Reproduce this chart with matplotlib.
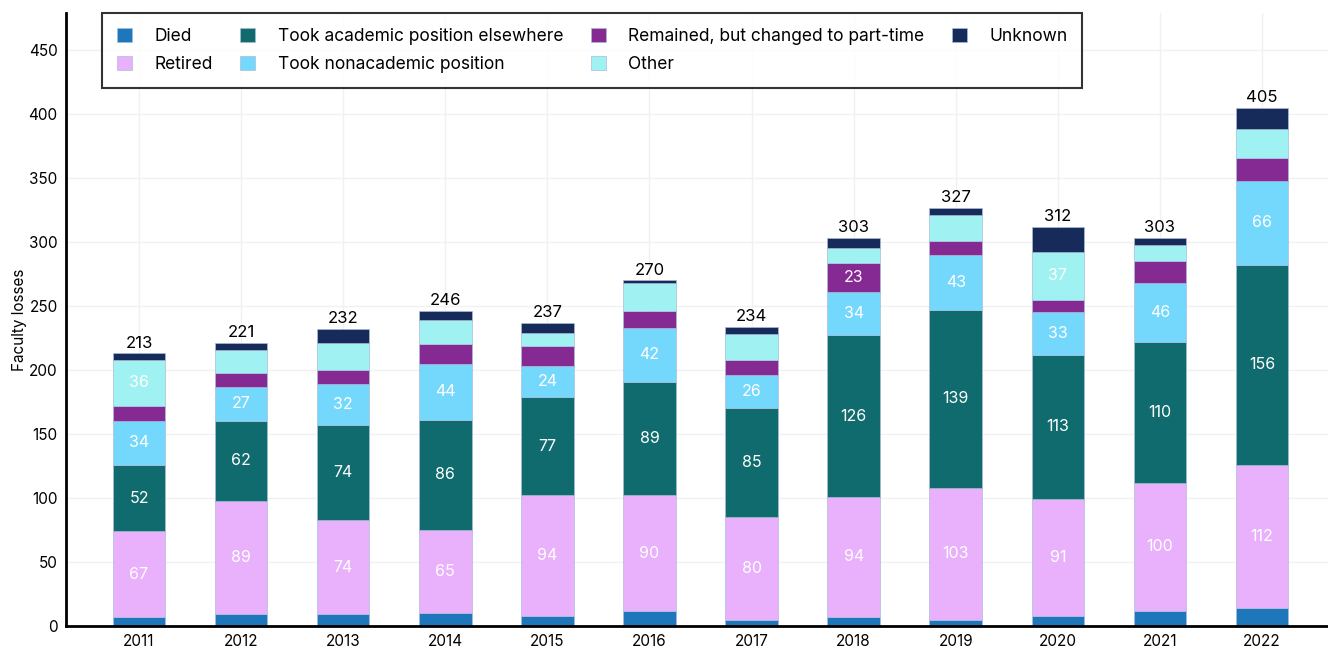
import matplotlib.pyplot as plt
import numpy as np

years = ['2011', '2012', '2013', '2014', '2015', '2016', '2017', '2018', '2019', '2020', '2021', '2022']

died = [7, 9, 9, 10, 8, 12, 5, 7, 5, 8, 12, 14]
retired = [67, 89, 74, 65, 94, 90, 80, 94, 103, 91, 100, 112]
academic = [52, 62, 74, 86, 77, 89, 85, 126, 139, 113, 110, 156]
nonacademic = [34, 27, 32, 44, 24, 42, 26, 34, 43, 33, 46, 66]
parttime = [12, 11, 11, 15, 16, 13, 12, 23, 11, 10, 17, 18]
other = [36, 18, 21, 19, 10, 22, 20, 11, 20, 37, 13, 22]
unknown = [5, 5, 11, 7, 8, 2, 6, 8, 6, 20, 5, 17]

series = [
    ('Died', died, '#1f77bb'),
    ('Retired', retired, '#e9b0fc'),
    ('Took academic position elsewhere', academic, '#0f6b6e'),
    ('Took nonacademic position', nonacademic, '#74d8fd'),
    ('Remained, but changed to part-time', parttime, '#862a93'),
    ('Other', other, '#a0f1f1'),
    ('Unknown', unknown, '#172b5a'),
]

plt.rcParams['font.family'] = ['Inter', 'DejaVu Sans']

fig = plt.figure(figsize=(13.28, 6.54), dpi=100)
ax = fig.add_axes([66 / 1328, 28 / 654, 1262 / 1328, 613 / 654])

x = np.arange(len(years))
bottom = np.zeros(len(years))
for name, vals, col in series:
    vals = np.array(vals)
    bars = ax.bar(x, vals, 0.515, bottom=bottom, color=col, label=name,
                  edgecolor='#a9bcd8', linewidth=0.5, zorder=2)
    # only the bigger segments carry a value label
    for i, b in enumerate(bars):
        if vals[i] >= 23:
            ax.text(b.get_x() + b.get_width() / 2, bottom[i] + vals[i] / 2, str(vals[i]),
                    ha='center', va='center', color='white', fontsize=11.5, zorder=3)
    bottom += vals

for i, t in enumerate(bottom):
    ax.annotate(str(int(t)), (x[i], t), xytext=(0, 2), textcoords='offset points',
                ha='center', va='bottom', fontsize=12, color='black')

ax.set_xlim(-0.715, 11.646)
ax.set_ylim(0, 479)
ax.set_xticks(x)
ax.set_xticklabels(years)
ax.set_yticks(np.arange(0, 451, 50))
ax.tick_params(length=0, labelsize=11, pad=6)
ax.set_ylabel('Faculty losses', fontsize=11, labelpad=1)
ax.grid(True, color='#f1f1f1', linewidth=1, zorder=0)
ax.set_axisbelow(True)
for s in ['top', 'right']:
    ax.spines[s].set_visible(False)
for s in ['left', 'bottom']:
    ax.spines[s].set_linewidth(2)

leg = ax.legend(ncol=4, loc='upper left', bbox_to_anchor=(36 / 1262, 1.0), fontsize=12.5,
                frameon=True, fancybox=False, edgecolor='black', handlelength=0.85,
                handleheight=0.85, handletextpad=1.3, columnspacing=1.6, borderpad=0.85,
                labelspacing=0.66, borderaxespad=0)
leg.get_frame().set_linewidth(1.5)

plt.savefig('out.png', dpi=100)
